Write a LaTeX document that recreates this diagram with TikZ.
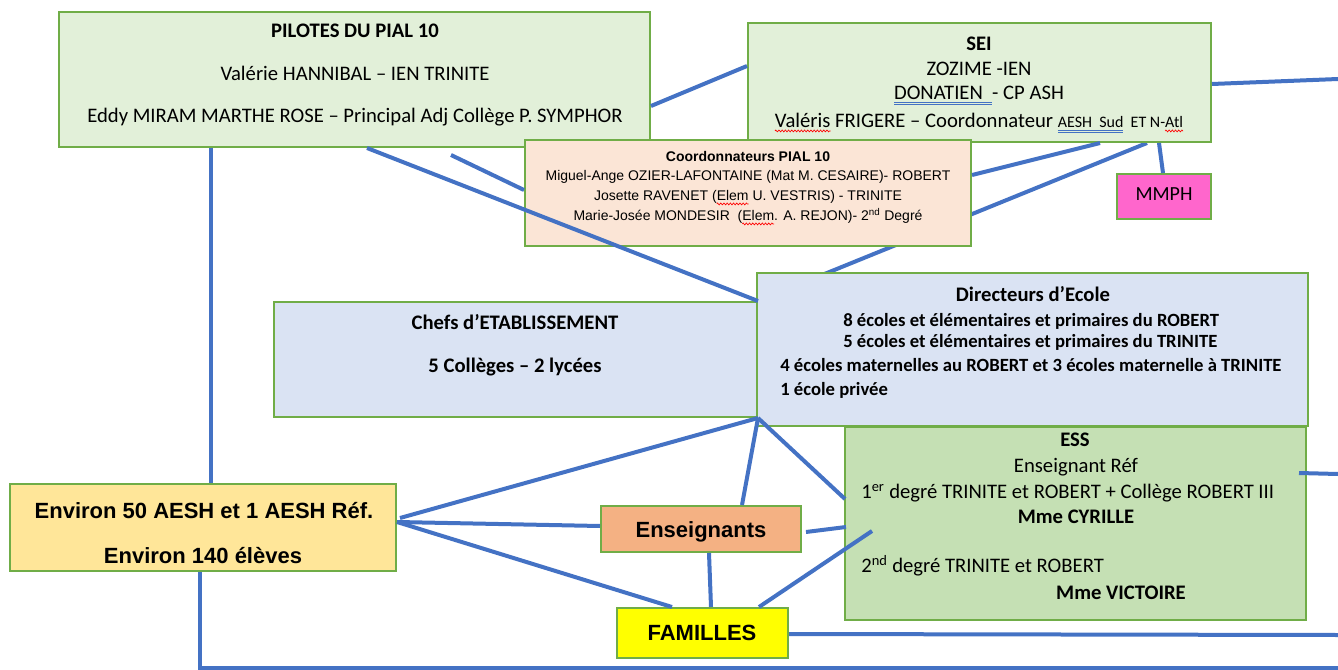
\documentclass[tikz,border=0pt]{standalone}
\usepackage{fontspec}
\setmainfont{Carlito}
\newfontfamily\arial{Liberation Sans}
\usetikzlibrary{fit,calc,decorations.pathmorphing}
\definecolor{gborder}{HTML}{70AD47}
\definecolor{lgreen}{HTML}{E2F0D9}
\definecolor{peach}{HTML}{FBE5D6}
\definecolor{lblueb}{HTML}{DAE3F3}
\definecolor{essg}{HTML}{C5E0B4}
\definecolor{aeshy}{HTML}{FFE699}
\definecolor{enso}{HTML}{F4B183}
\definecolor{famy}{HTML}{FFFF00}
\definecolor{mmphp}{HTML}{FF66CC}
\definecolor{lineb}{HTML}{4472C4}
\definecolor{ulblue}{HTML}{4472C4}
\newcommand\squig[1]{\setbox0\hbox{#1}\copy0\tikz[overlay,x=1pt,y=1pt]{\draw[red,line width=0.5pt,decorate,decoration={zigzag,amplitude=0.7pt,segment length=2.4pt}] (-\wd0,-2.2pt) -- (0,-2.2pt);}}
\newcommand\dbl[1]{\setbox0\hbox{#1}\vtop{\offinterlineskip\copy0\kern1.3pt\hbox{\color{ulblue}\rule{\wd0}{0.6pt}}\kern0.9pt\hbox{\color{ulblue}\rule{\wd0}{0.6pt}}}}
\pgfdeclarelayer{bg}\pgfsetlayers{bg,main}
\begin{document}
\begin{tikzpicture}[x=0.75pt,y=-0.75pt,
  box/.style={draw=gborder,line width=1.5pt,inner sep=0pt},
  conn/.style={draw=lineb,line width=3pt},
  cal/.style={font=\fontsize{15.5}{18}\selectfont,anchor=base,inner sep=0pt},
  calw/.style={cal,anchor=base west},
  dirs/.style={font=\bfseries\fontsize{14}{17}\selectfont,anchor=base west,inner sep=0pt},
  nar/.style={font=\arial\fontsize{10.5}{13}\selectfont,anchor=base,inner sep=0pt},
  big/.style={font=\arial\bfseries\fontsize{16.5}{20}\selectfont,anchor=base,inner sep=0pt}]
\useasboundingbox (0,0) rectangle (1338,670);
% boxes
\node[box,fill=lgreen,fit={(59,12)(650,147)}] (pil) {};
\node[box,fill=lgreen,fit={(748,23)(1211,142)}] (sei) {};
\node[box,fill=mmphp,fit={(1117,174)(1211,219)}] (mmph) {};
\node[box,fill=lblueb,fit={(274,302)(757,417)}] (chef) {};
\node[box,fill=lblueb,fit={(757,273)(1308,426)}] (dir) {};
\node[box,fill=essg,fit={(845,427)(1306,620)}] (ess) {};
\node[box,fill=peach,fit={(525,140)(971,246)}] (coord) {};
\node[box,fill=aeshy,fit={(10,484)(396,571)}] (aesh) {};
\node[box,fill=enso,fit={(601,506)(801,552)}] (ens) {};
\node[box,fill=famy,fit={(617,608)(788,658)}] (fam) {};
% free ends
\coordinate (eR1) at (1338,79);
\coordinate (eR2) at (1338,635);
\coordinate (eR3) at (1338,474);
\coordinate (eB) at (1338,668);
% texts
\node[cal] (t1) at (355,38) {\textbf{PILOTES DU PIAL 10}};
\node[cal] (t2) at (355,81) {Valérie HANNIBAL – IEN TRINITE};
\node[cal] (t3) at (355,123) {Eddy MIRAM MARTHE ROSE – Principal Adj Collège P. SYMPHOR};
\node[cal] (s1) at (979,51) {\textbf{SEI}};
\node[cal] (s2) at (979,76) {ZOZIME -IEN};
\node[cal] (s3) at (979,100) {\dbl{DONATIEN\ \ }- CP ASH};
\node[cal] (s4) at (979,128) {\squig{Valéris} FRIGERE – Coordonnateur {\fontsize{12}{14}\selectfont\dbl{AESH\ \ Sud}\ \ ET N-\squig{Atl}}};
\node[nar] (c1) at (748,162) {\bfseries Coordonnateurs PIAL 10};
\node[nar] (c2) at (748,181) {Miguel-Ange OZIER-LAFONTAINE (Mat M. CESAIRE)- ROBERT};
\node[nar] (c3) at (748,201) {Josette RAVENET (\squig{Elem} U. VESTRIS) - TRINITE};
\node[nar] (c4) at (748,221) {Marie-Josée MONDESIR\ \ (\squig{Elem}. A. REJON)- 2\textsuperscript{nd} Degré};
\node[cal,font=\fontsize{15}{18}\selectfont] (m1) at (1164,201) {MMPH};
\node[cal] (h1) at (515,329) {\textbf{Chefs d’ETABLISSEMENT}};
\node[cal] (h2) at (515,372) {\textbf{5 Collèges – 2 lycées}};
\node[cal] (d1) at (1033,301) {\textbf{Directeurs d’Ecole}};
\node[dirs] (d2) at (843,326) {8 écoles et élémentaires et primaires du ROBERT};
\node[dirs] (d3) at (843,347) {5 écoles et élémentaires et primaires du TRINITE};
\node[dirs] (d4) at (780,371) {4 écoles maternelles au ROBERT et 3 écoles maternelle à TRINITE};
\node[dirs] (d5) at (780,395) {1 école privée};
\node[cal] (e1) at (1075,446) {\textbf{ESS}};
\node[cal] (e2) at (1076,472) {Enseignant Réf};
\node[calw] (e3) at (861,498) {1\textsuperscript{er} degré TRINITE et ROBERT + Collège ROBERT III};
\node[cal] (e4) at (1076,523) {\textbf{Mme CYRILLE}};
\node[calw] (e5) at (861,572) {2\textsuperscript{nd} degré TRINITE et ROBERT};
\node[cal] (e6) at (1121,599) {\textbf{Mme VICTOIRE}};
\node[big] (a1) at (204,518) {Environ 50 AESH et 1 AESH Réf.};
\node[big] (a2) at (203,563) {Environ 140 élèves};
\node[big] (n1) at (701,537) {Enseignants};
\node[big] (f1) at (702,640) {FAMILLES};
% connectors behind
\begin{pgfonlayer}{bg}
\draw[conn] ($(sei.south west)+(400,0)$) -- (chef.north east);
\end{pgfonlayer}
% connectors
\draw[conn] ($(pil.south west)+(153,0)$) -- ($(aesh.north west)+(202,0)$);
\draw[conn] ($(pil.south east)+(0,-42)$) -- ($(sei.north west)+(0,44)$);
\draw[conn] ($(sei.north east)+(0,62)$) -- (eR1);
\draw[conn] ($(pil.south west)+(309,0)$) -- (chef.north east);
\draw[conn] ($(pil.south west)+(393,7)$) -- ($(coord.north west)+(0,51)$);
\draw[conn] ($(sei.south west)+(353,0)$) -- ($(coord.north east)+(0,36)$);
\draw[conn] ($(sei.south west)+(412,0)$) -- ($(mmph.north west)+(47,0)$);
\draw[conn] (chef.south east) -- ($(aesh.north east)+(3,35)$);
\draw[conn] (chef.south east) -- ($(ens.north west)+(142,0)$);
\draw[conn] (chef.south east) -- ($(ess.north west)+(1,73)$);
\draw[conn] ($(aesh.north east)+(0,39)$) -- ($(ens.north west)+(0,21)$);
\draw[conn] ($(aesh.north east)+(0,39)$) -- ($(fam.north west)+(56,0)$);
\draw[conn] ($(ens.north east)+(4,27)$) -- ($(ess.north west)+(2,101)$);
\draw[conn] ($(ens.south west)+(109,0)$) -- ($(fam.north west)+(95,0)$);
\draw[conn] ($(fam.north west)+(143,0)$) -- ($(ess.north west)+(28,105)$);
\draw[conn] ($(fam.south east)+(0,-25)$) -- (eR2);
\draw[conn] ($(ess.north east)+(-8,47)$) -- (eR3);
\draw[conn] ($(aesh.south west)+(191,0)$) |- (eB);
\end{tikzpicture}
\end{document}
